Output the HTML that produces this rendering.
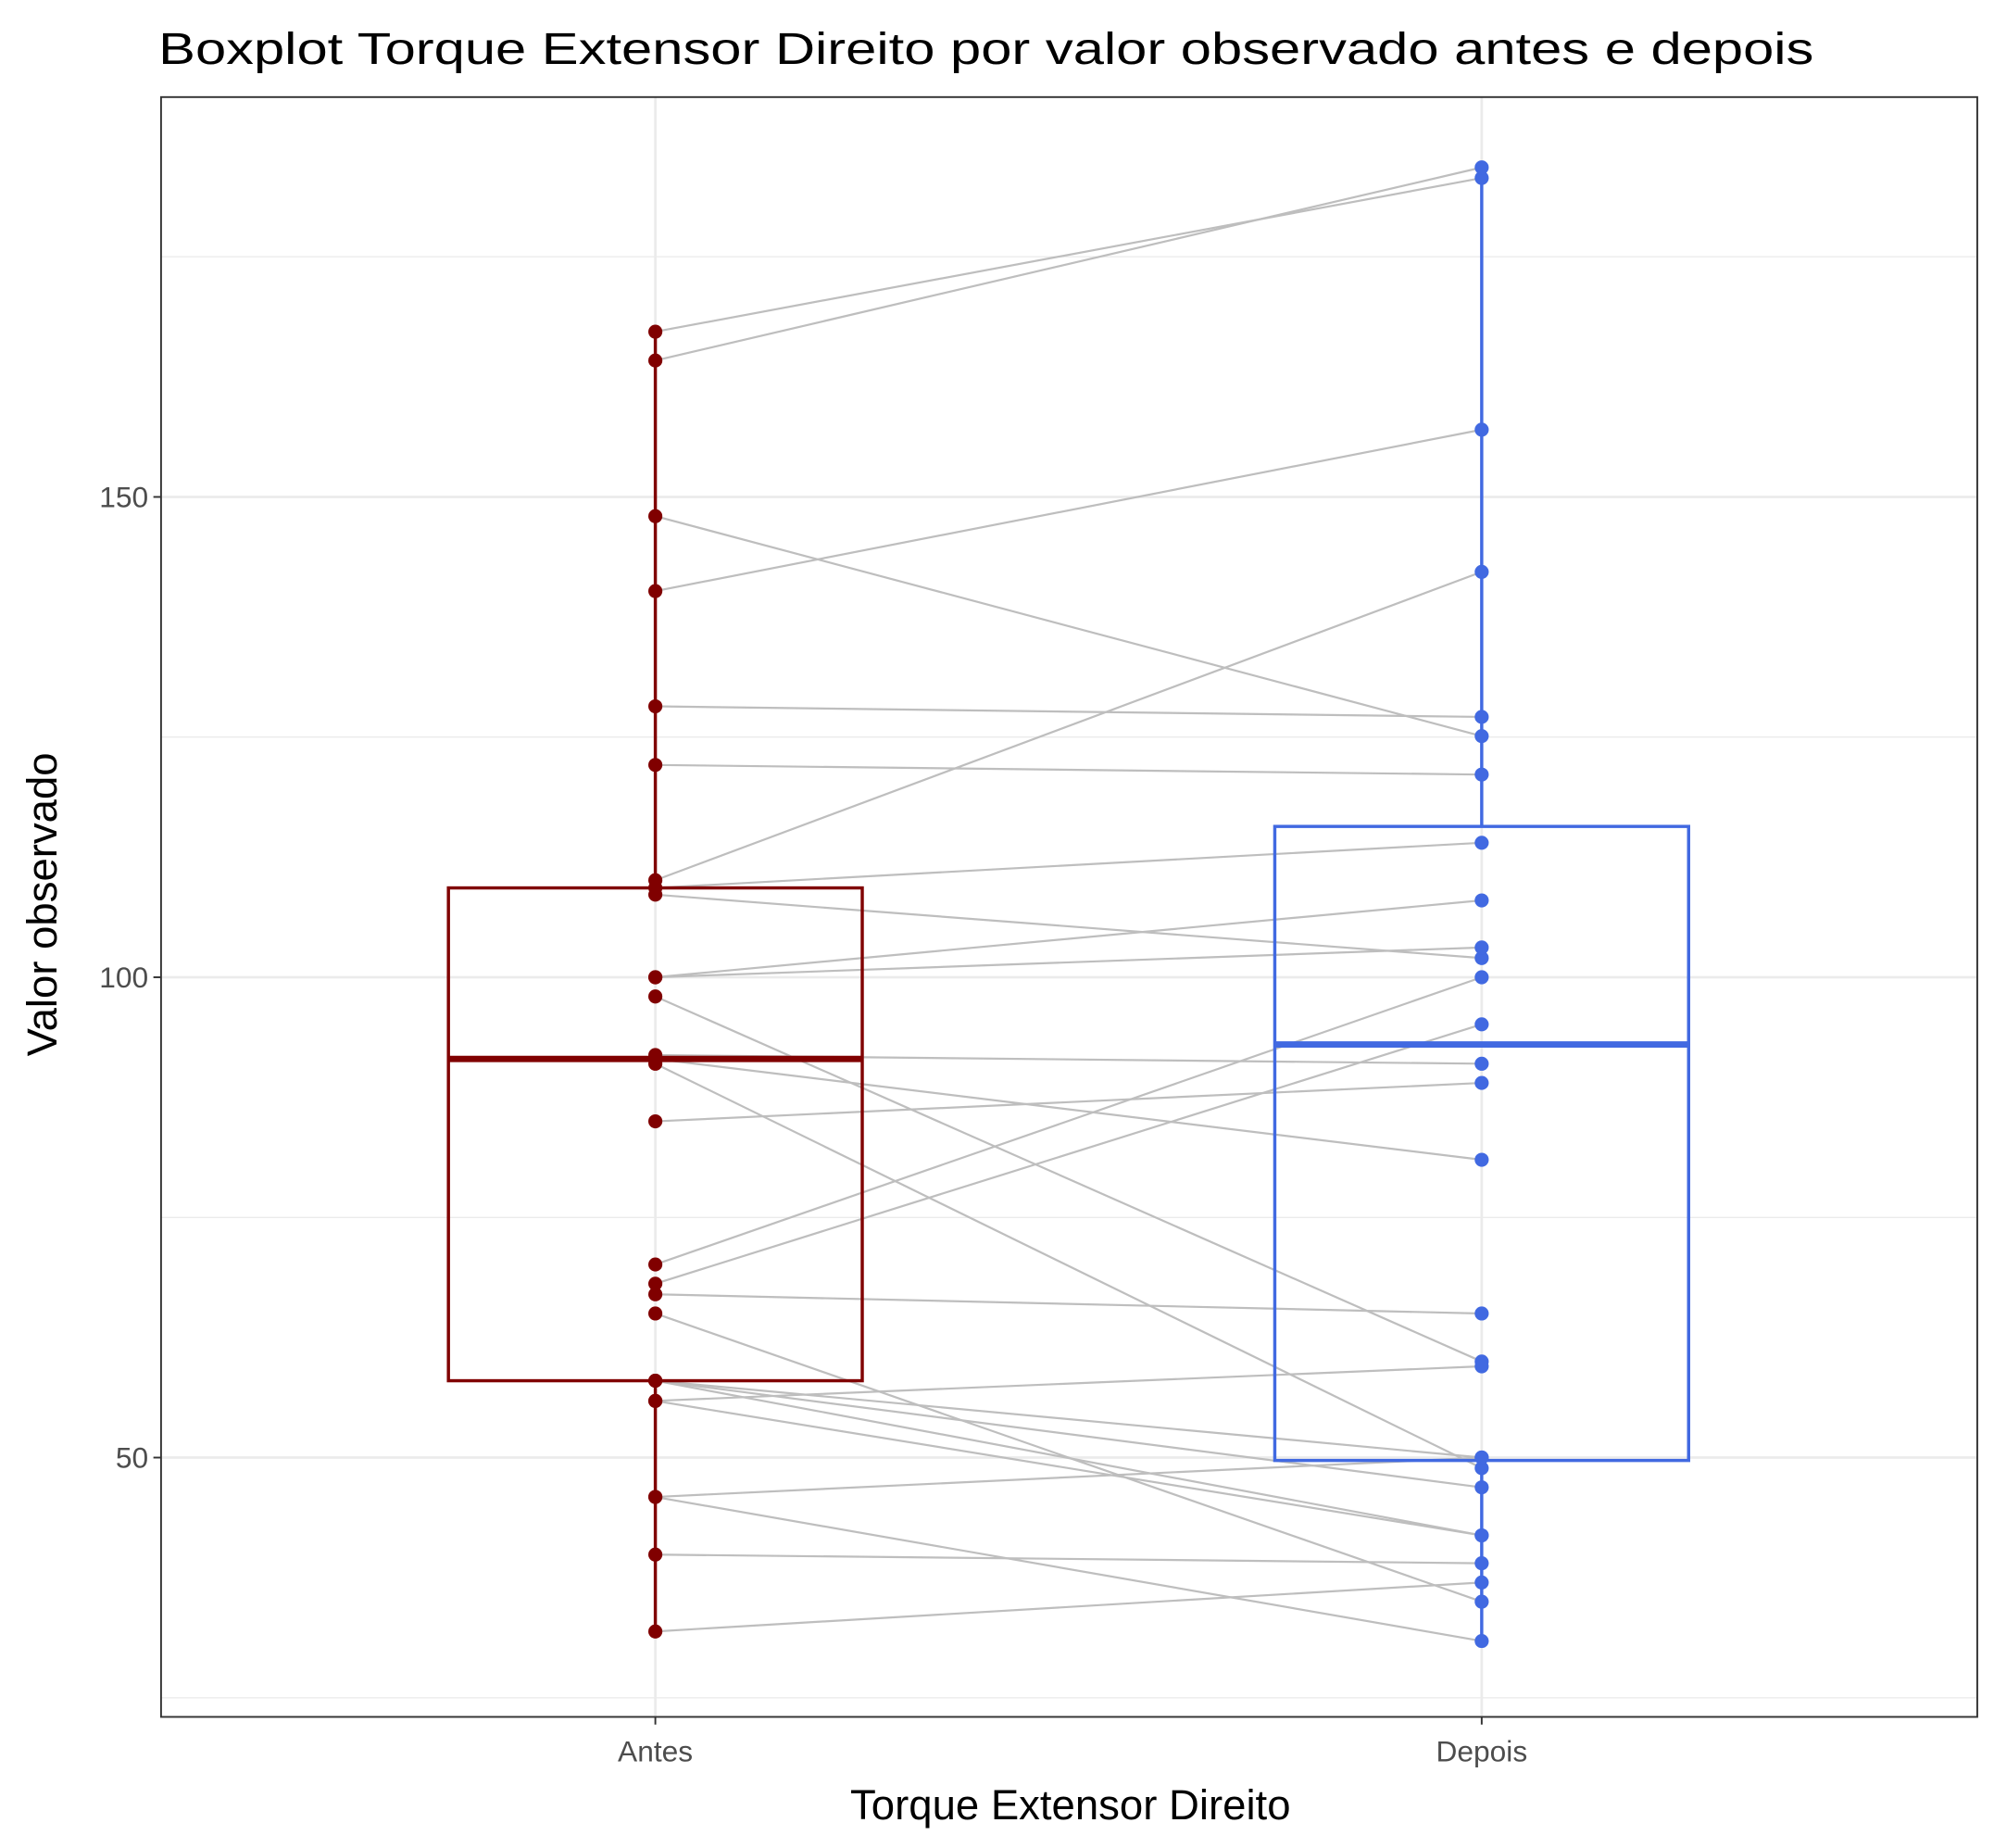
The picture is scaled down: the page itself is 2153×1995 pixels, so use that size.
<!DOCTYPE html>
<html><head><meta charset="utf-8"><style>html,body{margin:0;padding:0;background:#fff}</style></head>
<body>
<svg id="chart" width="2153" height="1990" viewBox="0 0 1561 1443" xmlns="http://www.w3.org/2000/svg" font-family="Liberation Sans, Arial, sans-serif">
<rect width="1561" height="1443" fill="#fff"/>
<text x="124" y="50" font-size="35" textLength="1296" lengthAdjust="spacingAndGlyphs" fill="#000">Boxplot Torque Extensor Direito por valor observado antes e depois</text>
<g id="grid"></g>
<g id="lines"></g>
<g id="boxes"></g>
<g id="points"></g>
<rect x="126" y="76" width="1422" height="1268" fill="none" stroke="#333" stroke-width="1.4"/>
<g id="axes"></g>
<text x="838" y="1424" font-size="33" text-anchor="middle" fill="#000">Torque Extensor Direito</text>
<text transform="translate(44,708) rotate(-90)" font-size="33" text-anchor="middle" fill="#000">Valor observado</text>
</svg>
<script>
const categories = ["Antes", "Depois"];
const antes = [167.2,164.2,148,140.2,128.2,122.1,110.1,109.3,108.6,100,100,98,91.9,91.5,91,85,70.1,68.1,67,65,58,58,58,55.9,55.9,45.9,45.9,39.9,31.9];
const depois = [183.2,184.3,125.1,157,127.1,121.1,142.2,114,102,108,103.1,60,91,81,48.9,89,100,95.1,65,35,50,46.9,41.9,59.5,41.9,50,30.9,39,37];
const boxLow = [31.9, 30.9];
const boxQ1 = [58, 49.7];
const boxMed = [91.5, 93];
const boxQ3 = [109.3, 115.7];
const boxHigh = [167.2, 184.3];
const yTicks = [50, 100, 150];
const yMinor = [25, 75, 125, 175];
const colors = ["#800000", "#4169E1"];
const NS = "http://www.w3.org/2000/svg";
function y(v){ return 765 - (v - 100) * 7.52; }
function x(i){ return 513 + i * 647; }
function mk(parent, tag, attrs){ const e = document.createElementNS(NS, tag); for (const k in attrs) e.setAttribute(k, attrs[k]); document.getElementById(parent).appendChild(e); return e; }
yMinor.forEach(v => { const l = mk('grid','line',{x1:126,x2:1548,y1:y(v),y2:y(v),stroke:'#ebebeb','stroke-width':1});
    });
yTicks.forEach(v => { const l = mk('grid','line',{x1:126,x2:1548,y1:y(v),y2:y(v),stroke:'#ebebeb','stroke-width':2});
   
  const t = mk('axes','line',{x1:120,x2:126,y1:y(v),y2:y(v),stroke:'#333','stroke-width':1.4});
   
  const tx = mk('axes','text',{x:116,y:y(v)+8,'font-size':23,'text-anchor':'end',fill:'#4d4d4d'}); tx.textContent = v;
    });
categories.forEach((c,i) => { const l = mk('grid','line',{x1:x(i),x2:x(i),y1:76,y2:1344,stroke:'#ebebeb','stroke-width':2});
   
  const t = mk('axes','line',{x1:x(i),x2:x(i),y1:1344,y2:1350,stroke:'#333','stroke-width':1.4});
   
  const tx = mk('axes','text',{x:x(i),y:1379,'font-size':23,'text-anchor':'middle',fill:'#4d4d4d'}); tx.textContent = c;
    });
antes.forEach((a,k) => { const l = mk('lines','line',{x1:x(0),y1:y(a),x2:x(1),y2:y(depois[k]),stroke:'#bebebe','stroke-width':1.6});
    });
categories.forEach((c,i) => {
  const w1 = mk('boxes','line',{x1:x(i),x2:x(i),y1:y(boxHigh[i]),y2:y(boxQ3[i]),stroke:colors[i],'stroke-width':2.5});
   
  const w2 = mk('boxes','line',{x1:x(i),x2:x(i),y1:y(boxQ1[i]),y2:y(boxLow[i]),stroke:colors[i],'stroke-width':2.5});
   
  const b = mk('boxes','rect',{x:x(i)-162,y:y(boxQ3[i]),width:324,height:y(boxQ1[i])-y(boxQ3[i]),fill:'none',stroke:colors[i],'stroke-width':2.5});
   
  const m = mk('boxes','line',{x1:x(i)-162,x2:x(i)+162,y1:y(boxMed[i]),y2:y(boxMed[i]),stroke:colors[i],'stroke-width':5});
   
});
[antes, depois].forEach((arr,i) => arr.forEach(v => { const p = mk('points','circle',{cx:x(i),cy:y(v),r:5.5,fill:colors[i]});
    }));
</script>
</body></html>
